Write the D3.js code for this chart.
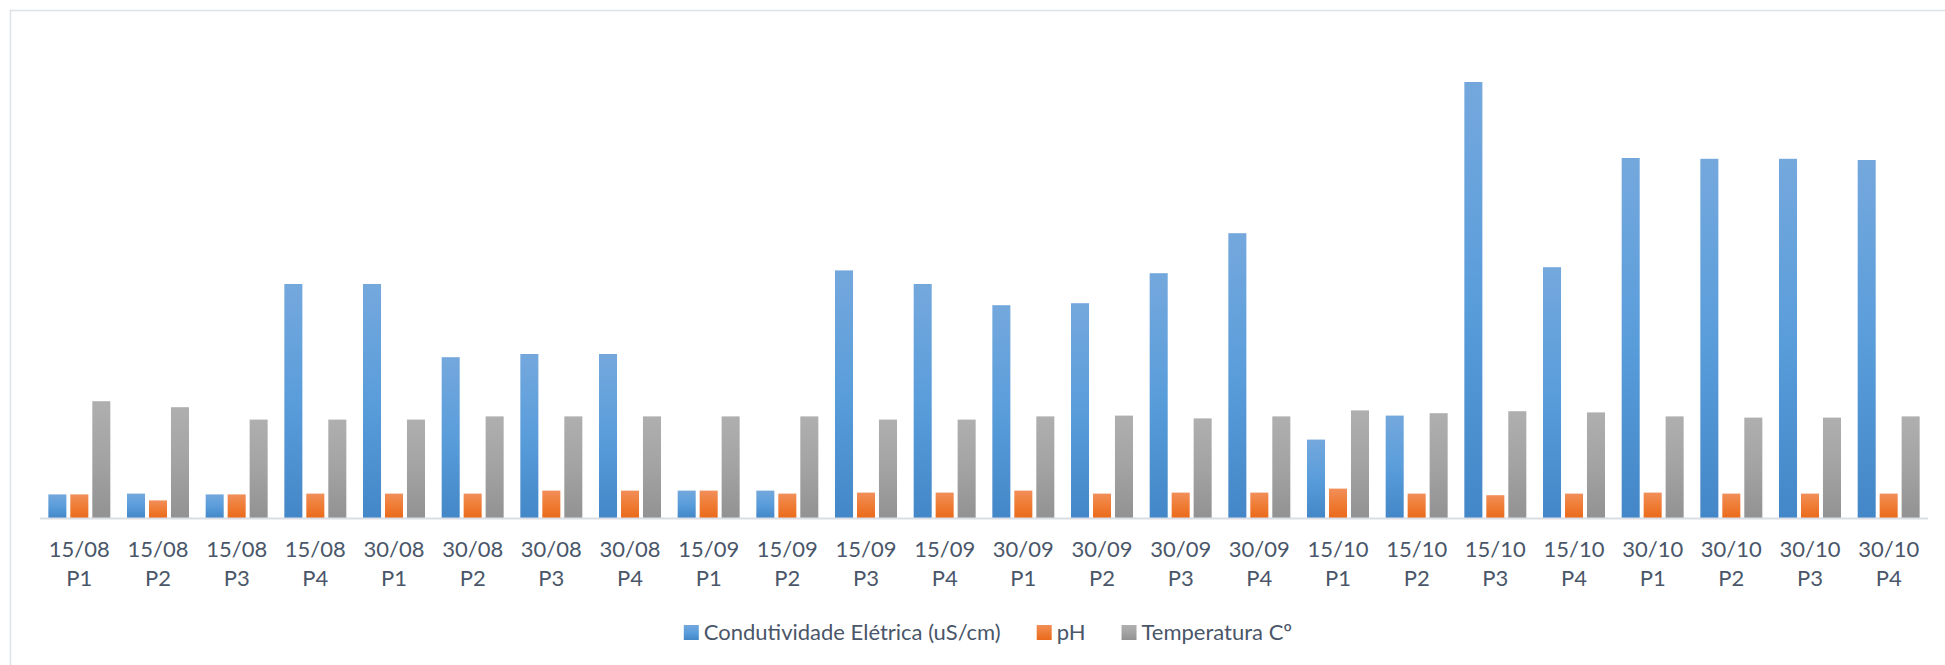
<!DOCTYPE html>
<html>
<head>
<meta charset="utf-8">
<script src="https://cdn.jsdelivr.net/npm/d3@7"></script>
<style>
  html, body { margin: 0; padding: 0; background: #ffffff; }
  svg { display: block; }
</style>
</head>
<body>
<svg id="chart" width="1945" height="665"></svg>
<script>
const categories = [
  "15/08 P1", "15/08 P2", "15/08 P3", "15/08 P4",
  "30/08 P1", "30/08 P2", "30/08 P3", "30/08 P4",
  "15/09 P1", "15/09 P2", "15/09 P3", "15/09 P4",
  "30/09 P1", "30/09 P2", "30/09 P3", "30/09 P4",
  "15/10 P1", "15/10 P2", "15/10 P3", "15/10 P4",
  "30/10 P1", "30/10 P2", "30/10 P3", "30/10 P4"
];
const seriesNames = ["Condutividade Elétrica (uS/cm)", "pH", "Temperatura Cº"];
const condutividade = [5.9, 6.1, 5.9, 58.5, 58.5, 40.2, 41.0, 41.0, 6.85, 6.85, 61.9, 58.5,
                       53.2, 53.7, 61.2, 71.2, 19.6, 25.6, 109.0, 62.7, 90.0, 89.8, 89.8, 89.5];
const ph = [5.9, 4.4, 5.9, 6.1, 6.1, 6.1, 6.85, 6.85, 6.85, 6.1, 6.35, 6.35,
            6.85, 6.1, 6.35, 6.35, 7.35, 6.1, 5.7, 6.1, 6.35, 6.1, 6.1, 6.1];
const temperatura = [29.2, 27.7, 24.6, 24.6, 24.6, 25.4, 25.4, 25.4, 25.4, 25.4, 24.6, 24.6,
                     25.4, 25.6, 24.9, 25.4, 26.9, 26.2, 26.7, 26.4, 25.4, 25.1, 25.1, 25.4];
const yDomain = [0, 120];

const seriesValues = [condutividade, ph, temperatura];
const gradStops = [
  ["#74a8dd", "#5a9ddb", "#4387c8"],
  ["#f18f5a", "#ef7c35", "#ea6a1b"],
  ["#afafaf", "#a3a3a3", "#929292"]
];

const svg = d3.select("#chart");
const FONT = "Lato, Calibri, 'Open Sans', sans-serif";
const TEXT = "#4a5669";

// chart border
svg.append("rect")
  .attr("x", 10.5).attr("y", 10.5)
  .attr("width", 1945).attr("height", 665)
  .attr("fill", "#ffffff")
  .attr("stroke", "#dde1e8").attr("stroke-width", 1.5);

// gradients
const defs = svg.append("defs");
gradStops.forEach((stops, i) => {
  const g = defs.append("linearGradient")
    .attr("id", "grad" + i)
    .attr("x1", 0).attr("y1", 0).attr("x2", 0).attr("y2", 1);
  g.append("stop").attr("offset", "0%").attr("stop-color", stops[0]);
  g.append("stop").attr("offset", "50%").attr("stop-color", stops[1]);
  g.append("stop").attr("offset", "100%").attr("stop-color", stops[2]);
});

const plotLeft = 40, plotRight = 1928, baseY = 518, topY = 38;

const x0 = d3.scaleBand()
  .domain(categories)
  .range([plotLeft, plotRight])
  .paddingInner(0.212)
  .paddingOuter(0.106);

const x1 = d3.scaleBand()
  .domain(d3.range(seriesValues.length))
  .range([0, x0.bandwidth()])
  .paddingInner(0.18)
  .paddingOuter(0);

const y = d3.scaleLinear().domain(yDomain).range([baseY, topY]);

// bars
const groups = svg.append("g").selectAll("g")
  .data(categories)
  .join("g")
  .attr("transform", d => `translate(${x0(d)},0)`);

groups.selectAll("rect")
  .data((d, ci) => seriesValues.map((vals, si) => ({ si, v: vals[ci] })))
  .join("rect")
  .attr("x", d => x1(d.si))
  .attr("width", x1.bandwidth())
  .attr("y", d => y(d.v))
  .attr("height", d => y(0) - y(d.v))
  .attr("fill", d => `url(#grad${d.si})`);

// x axis
const xAxis = d3.axisBottom(x0).tickSize(0).tickPadding(0);
const axisG = svg.append("g")
  .attr("transform", `translate(0,${baseY})`)
  .call(xAxis);
axisG.select(".domain")
  .attr("stroke", "#d9dde4")
  .attr("stroke-width", 2)
  .attr("d", `M${plotLeft},0.5H${plotRight}`);
axisG.selectAll(".tick text").each(function(d) {
  const parts = d.split(" ");
  const t = d3.select(this);
  t.text(null)
    .attr("y", 0)
    .attr("dy", null)
    .attr("fill", TEXT)
    .style("font-family", FONT)
    .style("font-size", "22px");
  t.append("tspan").attr("x", 0).attr("y", 39).text(parts[0]);
  t.append("tspan").attr("x", 0).attr("y", 67.5).text(parts[1]);
});

// legend
const legend = svg.append("g");
const items = legend.selectAll("g")
  .data(seriesNames)
  .join("g");
items.append("rect")
  .attr("width", 15).attr("height", 15)
  .attr("y", 625)
  .attr("fill", (d, i) => `url(#grad${i})`);
items.append("text")
  .attr("x", 20).attr("y", 640)
  .attr("fill", TEXT)
  .style("font-family", FONT)
  .style("font-size", "22px")
  .text(d => d);
let cx = 0;
const offsets = [];
items.each(function() {
  offsets.push(cx);
  const w = d3.select(this).select("text").node().getComputedTextLength();
  cx += 20 + w + 36;
});
const totalW = cx - 36;
const startX = 988 - totalW / 2;
items.attr("transform", (d, i) => `translate(${startX + offsets[i]},0)`);
</script>
</body>
</html>
